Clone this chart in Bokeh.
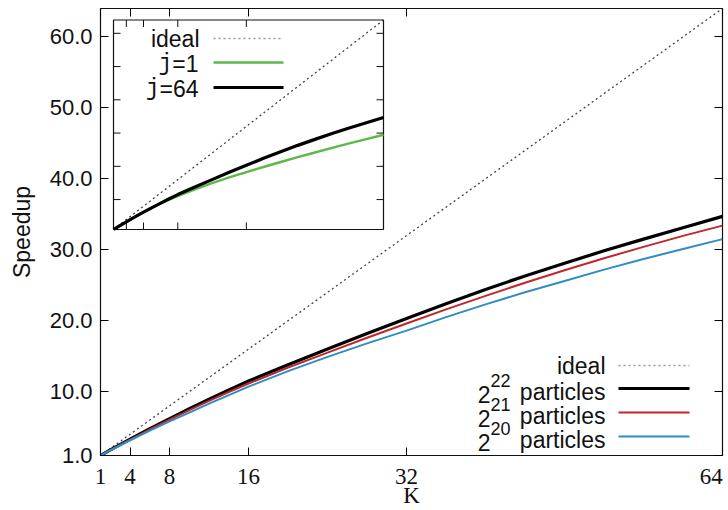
from bokeh.plotting import figure
from bokeh.models import Range1d, LinearAxis, FixedTicker, NumeralTickFormatter
from bokeh.core.properties import value
from bokeh.embed import file_html
from bokeh.resources import INLINE

# ---------------- data ----------------
K = [1, 2, 4, 6, 8, 10, 12, 14, 16, 20, 24, 28, 32, 36, 40, 44, 48, 52, 56, 60, 64]
ideal = [1, 2, 4, 6, 8, 10, 12, 14, 16, 20, 24, 28, 32, 36, 40, 44, 48, 52, 56, 60, 64]
p22 = [1.0, 1.78, 3.3, 4.78, 6.2, 7.6, 8.95, 10.25, 11.5, 13.8, 16.0, 18.2, 20.3,
       22.4, 24.4, 26.3, 28.1, 29.85, 31.5, 33.1, 34.7]
p21 = [1.0, 1.77, 3.25, 4.68, 6.05, 7.4, 8.7, 9.95, 11.15, 13.4, 15.5, 17.6, 19.6,
       21.6, 23.5, 25.35, 27.1, 28.8, 30.4, 31.95, 33.4]
p20 = [1.0, 1.74, 3.15, 4.5, 5.8, 7.05, 8.3, 9.5, 10.7, 12.9, 14.9, 16.8, 18.6,
       20.5, 22.3, 24.0, 25.6, 27.2, 28.7, 30.1, 31.5]
j1 = [1.0, 1.78, 3.3, 4.78, 6.2, 7.55, 8.8, 9.95, 11.05, 13.1, 14.95, 16.65, 18.25,
      19.8, 21.3, 22.75, 24.15, 25.55, 26.9, 28.2, 29.5]
j64 = [1.0, 1.78, 3.3, 4.78, 6.2, 7.6, 8.95, 10.25, 11.5, 13.8, 16.0, 18.2, 20.3,
       22.4, 24.4, 26.3, 28.1, 29.85, 31.5, 33.1, 34.7]

x_ticks = [1, 4, 8, 16, 32, 64]
y_ticks = [1, 10, 20, 30, 40, 50, 60]
inset_x_ticks = [4, 8, 16, 32]
inset_y_ticks = [10, 20, 30, 40, 50, 60]

main_legend = ["ideal", "particles", "particles", "particles"]
main_exponents = ["22", "21", "20"]
inset_legend_sym = ["j", "j"]
inset_legend_rest = ["=1", "=64"]

# ---------------- styles ----------------
SANS = "Liberation Sans"
SERIF = "Liberation Serif"
MONO = "Liberation Mono"
TXT = "#111111"
BLACK = "#000000"
RED = "#c0272d"
BLUE = "#2e8ec4"
GREEN = "#5cb848"
DOT = "#444444"

X0, X1, Y0, Y1 = 1, 64, 1, 64

p = figure(width=728, height=510,
           x_range=Range1d(X0, X1), y_range=Range1d(Y0, Y1),
           output_backend="svg", toolbar_location=None,
           min_border_left=100, min_border_right=6,
           min_border_top=8, min_border_bottom=55)
p.xgrid.visible = False
p.ygrid.visible = False
p.outline_line_color = "#111111"
p.outline_line_width = 1.2
p.background_fill_color = "white"
p.border_fill_color = "white"

xa = p.below[0]
xa.ticker = FixedTicker(ticks=x_ticks)
xa.major_label_overrides = {64: "64\u00a0"}
xa.major_tick_in = 8
xa.major_tick_out = 0
xa.minor_tick_in = 0
xa.minor_tick_out = 0
xa.axis_line_color = None
xa.major_label_standoff = 8
xa.major_label_text_font = SERIF
xa.major_label_text_font_size = "23px"
xa.major_label_text_color = TXT
xa.axis_label = "K"
xa.axis_label_text_font = SERIF
xa.axis_label_text_font_size = "23px"
xa.axis_label_text_font_style = "normal"
xa.axis_label_text_color = TXT
xa.axis_label_standoff = -9

ya = p.left[0]
ya.ticker = FixedTicker(ticks=y_ticks)
ya.formatter = NumeralTickFormatter(format="0.0")
ya.major_tick_in = 8
ya.major_tick_out = 0
ya.minor_tick_in = 0
ya.minor_tick_out = 0
ya.axis_line_color = None
ya.major_label_standoff = 8
ya.major_label_text_font = SANS
ya.major_label_text_font_size = "22px"
ya.major_label_text_color = TXT
ya.axis_label = "Speedup"
ya.axis_label_text_font = SANS
ya.axis_label_text_font_size = "23px"
ya.axis_label_text_font_style = "normal"
ya.axis_label_text_color = TXT
ya.axis_label_standoff = 12


def mirror(ticks):
    return LinearAxis(ticker=FixedTicker(ticks=ticks),
                      major_label_overrides={t: "" for t in ticks},
                      major_tick_in=8, major_tick_out=0,
                      minor_tick_in=0, minor_tick_out=0,
                      major_label_text_font_size="0px",
                      major_label_standoff=0, axis_line_color=None)


p.add_layout(mirror(y_ticks), "right")
p.add_layout(mirror(x_ticks), "above")

# ---------------- main curves ----------------
p.line(K, ideal, line_color=DOT, line_width=1.3, line_dash="2 3")
p.line(K, p22, line_color=BLACK, line_width=3.2)
p.line(K, p21, line_color=RED, line_width=2)
p.line(K, p20, line_color=BLUE, line_width=2)

# canvas-pixel -> main data helpers (frame 100..722 x 8..455)
FL, FR, FT, FB = 100, 722, 8, 455


def mx(px):
    return X0 + (px - FL) / (FR - FL) * (X1 - X0)


def my(py):
    return Y0 + (FB - py) / (FB - FT) * (Y1 - Y0)


def txt(api, xs, ys, texts, font, size):
    api.text(x=xs, y=ys, text=texts, text_font=value(font),
             text_font_size=value(size), text_color=TXT,
             text_align="right", text_baseline="middle")


# ---------------- main legend ----------------
rows = [365, 388, 412, 436]
txt(p, [mx(605)], [my(rows[0])], main_legend[:1], SANS, "23px")
txt(p, [mx(605)] * 3, [my(r + 3) for r in rows[1:]], main_legend[1:], SANS, "23px")
txt(p, [mx(490)] * 3, [my(r + 5.5) for r in rows[1:]], ["2", "2", "2"], SANS, "23px")
txt(p, [mx(510)] * 3, [my(r - 8) for r in rows[1:]], main_exponents, SANS, "18px")
p.segment(x0=[mx(618)], y0=[my(rows[0])], x1=[mx(689)], y1=[my(rows[0])],
          line_color="#999999", line_width=1.3, line_dash="2 3")
for r, c, w in zip(rows[1:], [BLACK, RED, BLUE], [3.2, 2, 2]):
    p.segment(x0=[mx(618)], y0=[my(r)], x1=[mx(689)], y1=[my(r)],
              line_color=c, line_width=w)

# ---------------- inset ----------------
IL, IR, IT, IB = 113, 383, 19.5, 229
ins = p.subplot(x_source=Range1d(X0, X1), y_source=Range1d(Y0, Y1),
                x_target=Range1d(mx(IL), mx(IR)), y_target=Range1d(my(IB), my(IT)))


def ix(px):
    return X0 + (px - IL) / (IR - IL) * (X1 - X0)


def iy(py):
    return Y0 + (IB - py) / (IB - IT) * (Y1 - Y0)


ins.quad(left=[X0], right=[X1], bottom=[Y0], top=[Y1],
         fill_color="white", line_color="#111111", line_width=1.2)

tlx = (X1 - X0) * 7 / (IR - IL)
tly = (Y1 - Y0) * 7 / (IB - IT)
ins.segment(x0=inset_x_ticks, y0=[Y0] * 4, x1=inset_x_ticks, y1=[Y0 + tly] * 4,
            line_color="#111111", line_width=1)
ins.segment(x0=inset_x_ticks, y0=[Y1] * 4, x1=inset_x_ticks, y1=[Y1 - tly] * 4,
            line_color="#111111", line_width=1)
ins.segment(x0=[X0] * 6, y0=inset_y_ticks, x1=[X0 + tlx] * 6, y1=inset_y_ticks,
            line_color="#111111", line_width=1)
ins.segment(x0=[X1] * 6, y0=inset_y_ticks, x1=[X1 - tlx] * 6, y1=inset_y_ticks,
            line_color="#111111", line_width=1)

ins.line(K, ideal, line_color=DOT, line_width=1.3, line_dash="2 3")
ins.line(K, j1, line_color=GREEN, line_width=2.4)
ins.line(K, j64, line_color=BLACK, line_width=3.2)

# inset legend
irows = [38, 62, 87]
txt(ins, [ix(199)], [iy(irows[0] + 0.5)], ["ideal"], SANS, "23px")
txt(ins, [ix(198)] * 2, [iy(r + 1) for r in irows[1:]], inset_legend_rest, SANS, "23px")
txt(ins, [ix(198 - 26.2), ix(198 - 39.0)], [iy(r + 1) for r in irows[1:]],
    inset_legend_sym, MONO, "23px")
ins.segment(x0=[ix(213)], y0=[iy(irows[0])], x1=[ix(283)], y1=[iy(irows[0])],
            line_color="#999999", line_width=1.3, line_dash="2 3")
ins.segment(x0=[ix(213)], y0=[iy(irows[1])], x1=[ix(283)], y1=[iy(irows[1])],
            line_color=GREEN, line_width=2.4)
ins.segment(x0=[ix(213)], y0=[iy(irows[2])], x1=[ix(283)], y1=[iy(irows[2])],
            line_color=BLACK, line_width=3.2)

open("out.html", "w").write(file_html(p, INLINE))
